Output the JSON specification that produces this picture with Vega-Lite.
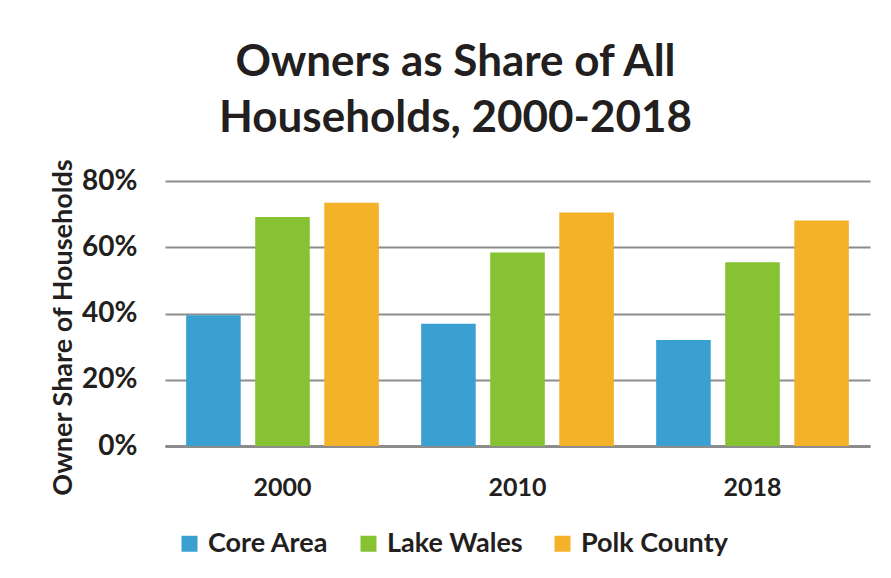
{
  "$schema": "https://vega.github.io/schema/vega-lite/v6.json",
  "width": 705,
  "height": 265,
  "autosize": {"type": "none"},
  "padding": {"left": 165, "top": 181, "right": 21, "bottom": 132},
  "background": "white",
  "title": {
    "text": ["Owners as Share of All", "Households, 2000-2018"],
    "font": "Lato",
    "fontSize": 44,
    "fontWeight": "bold",
    "color": "#231F20",
    "anchor": "middle",
    "frame": "group",
    "dx": -62,
    "offset": 17,
    "lineHeight": 56
  },
  "data": {
    "values": [
      {"year": "2000", "area": "Core Area", "share": 0.395},
      {"year": "2000", "area": "Lake Wales", "share": 0.691},
      {"year": "2000", "area": "Polk County", "share": 0.734},
      {"year": "2010", "area": "Core Area", "share": 0.369},
      {"year": "2010", "area": "Lake Wales", "share": 0.584},
      {"year": "2010", "area": "Polk County", "share": 0.705},
      {"year": "2018", "area": "Core Area", "share": 0.32},
      {"year": "2018", "area": "Lake Wales", "share": 0.555},
      {"year": "2018", "area": "Polk County", "share": 0.681}
    ]
  },
  "mark": {"type": "bar"},
  "encoding": {
    "x": {
      "field": "year",
      "type": "nominal",
      "scale": {"paddingInner": 0.18, "paddingOuter": 0.09},
      "axis": {
        "title": null,
        "labelAngle": 0,
        "labelFont": "Lato",
        "labelFontSize": 25,
        "labelFontWeight": "bold",
        "labelColor": "#231F20",
        "labelPadding": 29,
        "ticks": false,
        "domainColor": "#8C8C8C",
        "domainWidth": 3
      }
    },
    "xOffset": {
      "field": "area",
      "type": "nominal",
      "scale": {"paddingInner": 0.21, "paddingOuter": 0}
    },
    "y": {
      "field": "share",
      "type": "quantitative",
      "scale": {"domain": [0, 0.8]},
      "axis": {
        "title": "Owner Share of Households",
        "titleFont": "Lato",
        "titleFontSize": 27,
        "titleFontWeight": "bold",
        "titleColor": "#231F20",
        "titlePadding": 4,
        "titleY": 146,
        "format": ".0%",
        "values": [0, 0.2, 0.4, 0.6, 0.8],
        "labelOverlap": false,
        "labelFont": "Lato",
        "labelFontSize": 28,
        "labelFontWeight": "bold",
        "labelColor": "#231F20",
        "labelPadding": 28,
        "ticks": false,
        "domain": false,
        "grid": true,
        "gridColor": "#8C8C8C",
        "gridWidth": 2
      }
    },
    "color": {
      "field": "area",
      "type": "nominal",
      "scale": {
        "domain": ["Core Area", "Lake Wales", "Polk County"],
        "range": ["#3AA0D1", "#86C232", "#F4B228"]
      },
      "legend": {
        "title": null,
        "orient": "none",
        "legendX": 11,
        "legendY": 349,
        "direction": "horizontal",
        "symbolType": "square",
        "symbolSize": 256,
        "symbolStrokeWidth": 0,
        "labelFont": "Lato",
        "labelFontSize": 27,
        "labelFontWeight": "bold",
        "labelColor": "#231F20",
        "labelOffset": 5,
        "columnPadding": 26,
        "symbolOpacity": 1
      }
    }
  },
  "config": {
    "view": {"stroke": null}
  }
}
